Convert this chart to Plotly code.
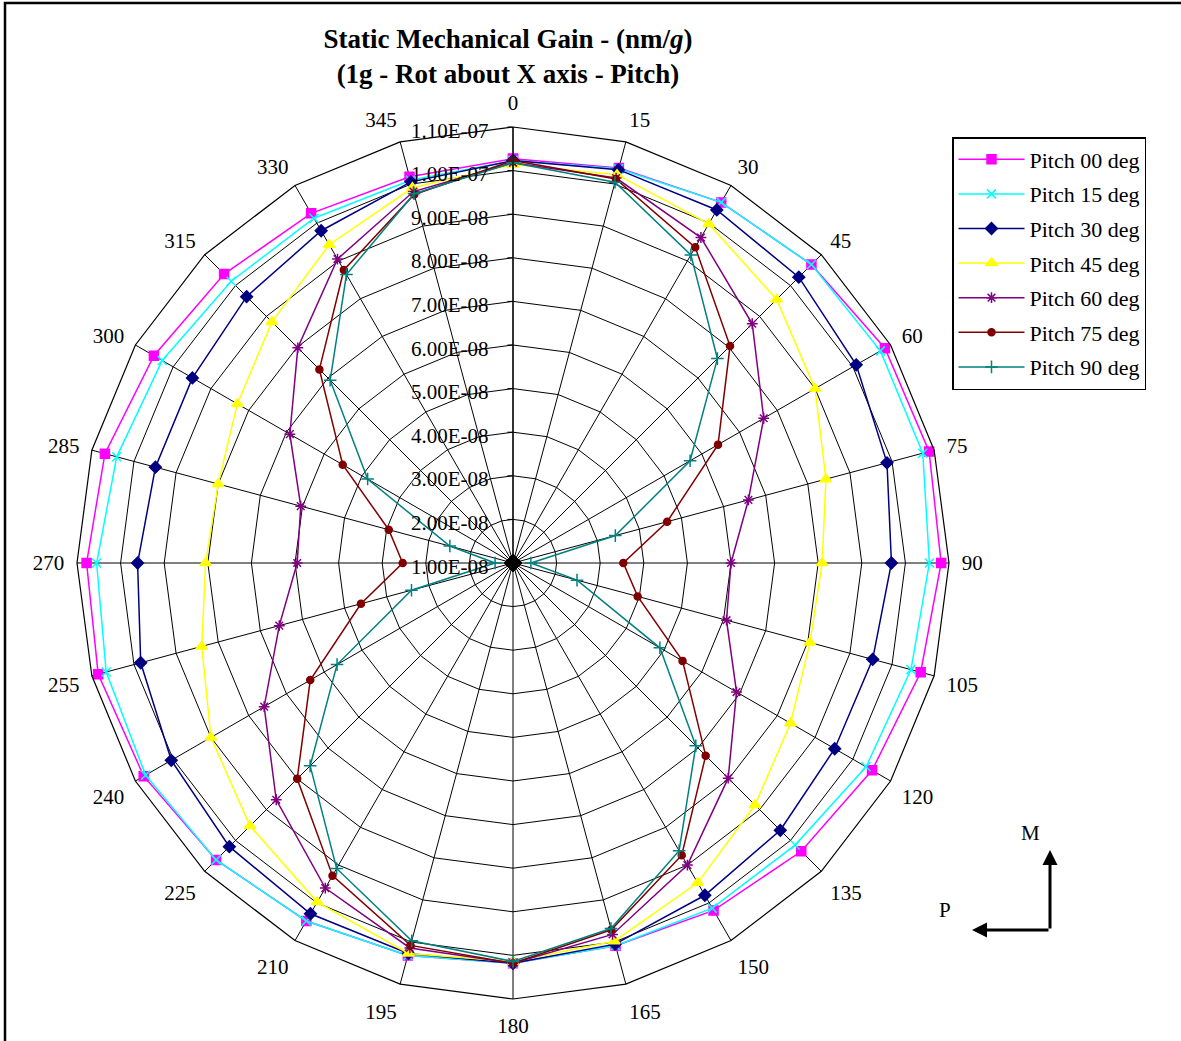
import plotly.graph_objects as go

angles = ["0", "15", "30", "45", "60", "75", "90", "105", "120", "135", "150", "165",
          "180", "195", "210", "225", "240", "255", "270", "285", "300", "315", "330", "345"]

pitch_00 = [10.27e-8, 10.38e-8, 10.55e-8, 10.68e-8, 10.85e-8, 10.88e-8, 10.82e-8, 10.68e-8,
            10.51e-8, 10.35e-8, 10.20e-8, 10.09e-8, 10.18e-8, 10.32e-8, 10.48e-8, 10.63e-8,
            10.78e-8, 10.85e-8, 10.78e-8, 10.69e-8, 10.51e-8, 10.37e-8, 10.26e-8, 10.17e-8]
pitch_15 = [10.23e-8, 10.36e-8, 10.55e-8, 10.68e-8, 10.73e-8, 10.73e-8, 10.55e-8, 10.45e-8,
            10.35e-8, 10.15e-8, 10.14e-8, 10.09e-8, 10.18e-8, 10.32e-8, 10.48e-8, 10.63e-8,
            10.73e-8, 10.66e-8, 10.55e-8, 10.41e-8, 10.29e-8, 10.14e-8, 10.13e-8, 10.09e-8]
pitch_30 = [10.23e-8, 10.34e-8, 10.35e-8, 10.27e-8, 10.09e-8, 9.88e-8, 9.68e-8, 9.54e-8,
            9.52e-8, 9.67e-8, 9.80e-8, 10.05e-8, 10.18e-8, 10.27e-8, 10.29e-8, 10.20e-8,
            10.05e-8, 9.84e-8, 9.61e-8, 9.49e-8, 9.49e-8, 9.64e-8, 9.80e-8, 10.05e-8]
pitch_45 = [10.14e-8, 10.22e-8, 9.98e-8, 9.55e-8, 9.00e-8, 8.43e-8, 8.09e-8, 8.05e-8,
            8.35e-8, 8.85e-8, 9.47e-8, 9.98e-8, 10.14e-8, 10.27e-8, 9.98e-8, 9.53e-8,
            9.00e-8, 8.39e-8, 8.05e-8, 8.00e-8, 8.30e-8, 8.82e-8, 9.43e-8, 9.91e-8]
pitch_60 = [10.18e-8, 10.14e-8, 9.62e-8, 8.76e-8, 7.64e-8, 6.59e-8, 6.00e-8, 6.07e-8,
            6.92e-8, 7.98e-8, 9.00e-8, 9.82e-8, 10.18e-8, 10.14e-8, 9.61e-8, 8.68e-8,
            7.59e-8, 6.55e-8, 5.95e-8, 6.04e-8, 6.91e-8, 7.98e-8, 9.05e-8, 9.82e-8]
pitch_75 = [10.23e-8, 10.12e-8, 9.36e-8, 8.04e-8, 6.43e-8, 4.66e-8, 3.53e-8, 3.96e-8,
            5.49e-8, 7.25e-8, 8.74e-8, 9.71e-8, 10.18e-8, 10.08e-8, 9.28e-8, 8.00e-8,
            6.37e-8, 4.61e-8, 3.53e-8, 3.95e-8, 5.51e-8, 7.28e-8, 8.76e-8, 9.75e-8]
pitch_90 = [10.18e-8, 10.04e-8, 9.16e-8, 7.63e-8, 5.69e-8, 3.43e-8, 1.41e-8, 2.52e-8,
            4.89e-8, 6.93e-8, 8.62e-8, 9.68e-8, 10.14e-8, 9.97e-8, 9.09e-8, 7.58e-8,
            5.66e-8, 3.41e-8, 1.41e-8, 2.50e-8, 4.85e-8, 6.93e-8, 8.64e-8, 9.77e-8]

series_names = ["Pitch 00 deg", "Pitch 15 deg", "Pitch 30 deg", "Pitch 45 deg",
                "Pitch 60 deg", "Pitch 75 deg", "Pitch 90 deg"]
series_values = [pitch_00, pitch_15, pitch_30, pitch_45, pitch_60, pitch_75, pitch_90]

radial_min, radial_max = 1e-8, 1.1e-7
radial_tickvals = [1e-8, 2e-8, 3e-8, 4e-8, 5e-8, 6e-8, 7e-8, 8e-8, 9e-8, 1.0e-7, 1.1e-7]
radial_ticktext = ["1.00E-08", "2.00E-08", "3.00E-08", "4.00E-08", "5.00E-08", "6.00E-08",
                   "7.00E-08", "8.00E-08", "9.00E-08", "1.00E-07", "1.10E-07"]

colors = ["#FF00FF", "#00FFFF", "#000080", "#FFFF00", "#800080", "#800000", "#008080"]
symbols = ["square", "x-thin-open", "diamond", "triangle-up", "asterisk-open", "circle", "cross-thin-open"]
sizes = [9, 9, 9, 10, 9, 7, 9]

FONT = "Liberation Serif"
W, H = 1181, 1041

fig = go.Figure()
for i, (name, vals, c, s, sz) in enumerate(zip(series_names, series_values, colors, symbols, sizes)):
    fig.add_trace(go.Scatterpolar(
        r=vals + vals[:1], theta=angles + angles[:1],
        mode="lines+markers", name=name, legendgroup=f"g{i}",
        line=dict(color=c, width=1.5),
        marker=dict(symbol=s, size=sz, color=c, line=dict(color=c, width=1.5)),
    ))

cx, cy, R = 513, 563, 436
fig.update_layout(
    width=W, height=H,
    margin=dict(l=0, r=0, t=0, b=0),
    paper_bgcolor="white",
    font=dict(family=FONT, size=21, color="black"),
    title=dict(
        text="<b>Static Mechanical Gain - (nm/<i>g</i>)</b><br><b>(1g - Rot about X axis - Pitch)</b>",
        x=508 / W, xanchor="center", y=1 - 48 / H, yanchor="top",
        font=dict(family=FONT, size=27, color="black"),
    ),
    polar=dict(
        domain=dict(x=[(cx - R) / W, (cx + R) / W], y=[1 - (cy + R) / H, 1 - (cy - R) / H]),
        bgcolor="white",
        gridshape="linear",
        angularaxis=dict(
            type="category", categoryarray=angles, rotation=90, direction="clockwise",
            showline=True, linecolor="black", linewidth=1.2,
            showgrid=True, gridcolor="black", gridwidth=1.2,
            ticks="outside", ticklen=8, tickcolor="rgba(0,0,0,0)",
            tickfont=dict(family=FONT, size=21, color="black"),
        ),
        radialaxis=dict(
            range=[radial_min, radial_max], tickvals=radial_tickvals, ticktext=radial_ticktext,
            angle=90, side="counterclockwise",
            showline=True, linecolor="black", linewidth=1.2,
            showgrid=True, gridcolor="black", gridwidth=1.2,
            ticks="outside", ticklen=5, tickcolor="black",
            tickfont=dict(family=FONT, size=21, color="black"),
        ),
    ),
    legend=dict(
        x=952 / W, y=1 - 137 / H, xanchor="left", yanchor="top",
        bgcolor="white", bordercolor="black", borderwidth=1.5,
        font=dict(family=FONT, size=22, color="black"),
        tracegroupgap=3, itemwidth=66,
    ),
    showlegend=True,
)

# outer chart border (right and bottom edges fall outside the picture)
fig.add_shape(type="rect", xref="paper", yref="paper",
              x0=5 / W, x1=1.02, y0=-0.02, y1=1 - 3 / H,
              line=dict(color="black", width=2.5), fillcolor="rgba(0,0,0,0)")

# dark hub where the spokes meet
d = 9
fig.add_shape(type="path", xref="paper", yref="paper",
              path=(f"M {cx / W},{1 - (cy - d) / H} L {(cx + d) / W},{1 - cy / H} "
                    f"L {cx / W},{1 - (cy + d) / H} L {(cx - d) / W},{1 - cy / H} Z"),
              line=dict(color="black", width=1), fillcolor="black")

# M / P direction arrows (offsets in pixels from the arrow head back to the corner)
fig.add_annotation(xref="paper", yref="paper", x=1050 / W, y=1 - 850 / H,
                   ax=0, ay=80, text="", showarrow=True, arrowhead=2, arrowsize=1,
                   arrowwidth=3, arrowcolor="black")
fig.add_annotation(xref="paper", yref="paper", x=972 / W, y=1 - 930 / H,
                   ax=78, ay=0, text="", showarrow=True, arrowhead=2, arrowsize=1,
                   arrowwidth=3, arrowcolor="black")
fig.add_annotation(xref="paper", yref="paper", x=1030 / W, y=1 - 833 / H, text="M",
                   xanchor="center", yanchor="middle",
                   showarrow=False, font=dict(family=FONT, size=21, color="black"))
fig.add_annotation(xref="paper", yref="paper", x=945 / W, y=1 - 910 / H, text="P",
                   xanchor="center", yanchor="middle",
                   showarrow=False, font=dict(family=FONT, size=21, color="black"))

fig.write_html("out.html", config={"displayModeBar": False},
               post_script="document.body.style.margin='0';")
